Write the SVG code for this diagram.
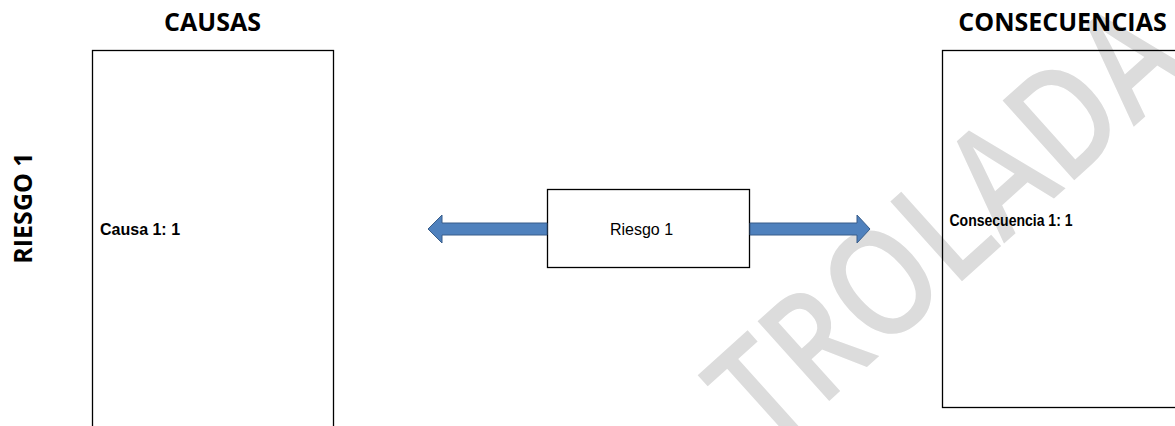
<svg xmlns="http://www.w3.org/2000/svg" width="1175" height="426" viewBox="0 0 1175 426">
  <style>
    .box { fill: none; stroke: #000; stroke-width: 1.3; }
    .head { font-family: "Open Sans", "Liberation Sans", sans-serif; font-weight: 700; font-size: 25px; fill: #000; }
    .item { font-family: "Liberation Sans", Arial, sans-serif; font-weight: 700; font-size: 16px; fill: #000; }
    .risk { font-family: "Liberation Sans", Arial, sans-serif; font-size: 16px; fill: #000; }
    .arrow { fill: #4f81bd; stroke: #385d8a; stroke-width: 1; }
    .mark { font-family: "Open Sans", "Liberation Sans", sans-serif; font-weight: 600; font-size: 150px; fill: #dcdcdc; }
  </style>
  <rect width="1175" height="426" fill="#fff"/>

  <!-- background watermark -->
  <text class="mark" transform="translate(768,456) rotate(-42)" textLength="575" lengthAdjust="spacingAndGlyphs">TROLADA</text>

  <!-- side heading -->
  <text class="head" transform="translate(32,208) rotate(-90)" text-anchor="middle">RIESGO 1</text>

  <g id="causas">
    <text class="head" x="212.5" y="31" text-anchor="middle">CAUSAS</text>
    <rect class="box" x="92.5" y="50.5" width="241" height="400"/>
    <text class="item" x="100" y="234.5">Causa 1: 1</text>
  </g>

  <g id="riesgo">
    <rect class="box" x="547.5" y="189.5" width="202" height="78"/>
    <text class="risk" x="641.5" y="235" text-anchor="middle">Riesgo 1</text>
  </g>

  <g id="consecuencias">
    <text class="head" x="1062.5" y="31" text-anchor="middle">CONSECUENCIAS</text>
    <rect class="box" x="942.5" y="50.5" width="300" height="357"/>
    <text class="item" x="949.5" y="226" textLength="123" lengthAdjust="spacingAndGlyphs">Consecuencia 1: 1</text>
  </g>

  <g id="connectors">
    <polygon class="arrow" points="547,223 442,223 442,215 428,229 442,243 442,235 547,235"/>
    <polygon class="arrow" points="750,223 857,223 857,215 870,229 857,243 857,235 750,235"/>
  </g>
</svg>
